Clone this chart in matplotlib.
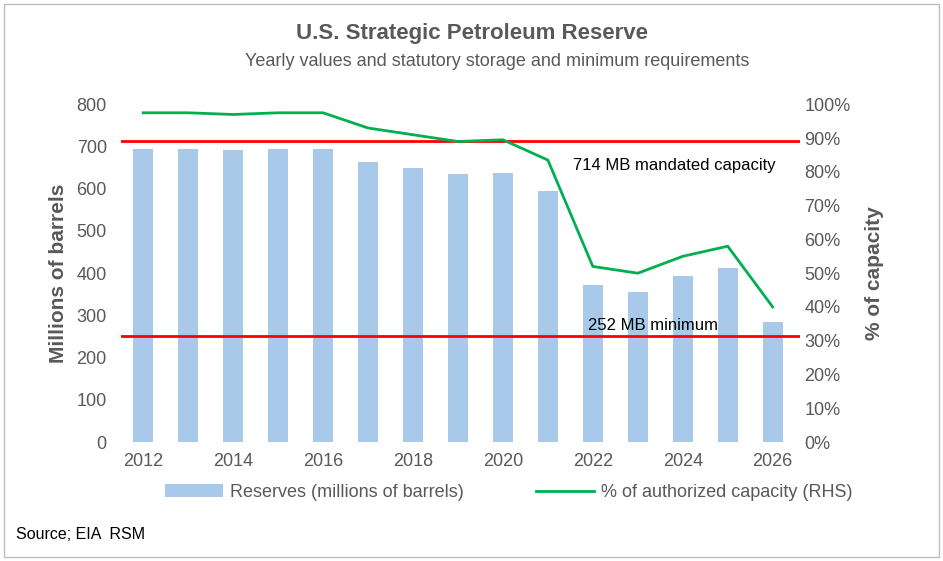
import matplotlib.pyplot as plt
from matplotlib.ticker import FuncFormatter

plt.rcParams['font.family'] = ['Liberation Sans', 'DejaVu Sans']

years = list(range(2012, 2027))
reserves = [695, 695, 691, 695, 695, 663, 650, 635, 638, 594, 372, 355, 394, 413, 285]
pct_capacity = [97.5, 97.5, 97.0, 97.5, 97.5, 93.0, 91.0, 89.0, 89.5, 83.5, 52.0, 50.0, 55.0, 58.0, 40.0]
mandated = 714
minimum = 252

gray = '#595959'
fig = plt.figure(figsize=(9.43, 5.61), dpi=100)
ax = fig.add_axes([0.128, 0.212, 0.72, 0.602])
ax2 = ax.twinx()

bars = ax.bar(years, reserves, width=0.45, color='#a9c9ea', label='Reserves (millions of barrels)', zorder=2)
ax.axhline(mandated, color='#ff0000', lw=2, zorder=3)
ax.axhline(minimum, color='#ff0000', lw=2, zorder=3)
line, = ax2.plot(years, pct_capacity, color='#00b050', lw=2, label='% of authorized capacity (RHS)')

ax.set_ylim(0, 800)
ax2.set_ylim(0, 100)
ax.set_xlim(2011.5, 2026.6)
ax.set_yticks(range(0, 801, 100))
ax2.set_yticks(range(0, 101, 10))
ax2.yaxis.set_major_formatter(FuncFormatter(lambda v, p: f'{v:.0f}%'))
ax.set_xticks(range(2012, 2027, 2))

for a in (ax, ax2):
    for s in a.spines.values():
        s.set_visible(False)
    a.tick_params(length=0, labelsize=13, colors=gray)
ax.tick_params(axis='x', pad=8)
ax.tick_params(axis='y', pad=10)
ax.set_ylabel('Millions of barrels', fontsize=15, fontweight='bold', color=gray, labelpad=6)
ax2.set_ylabel('% of capacity', fontsize=15, fontweight='bold', color=gray, labelpad=10)

ax.text(2021.55, 645, '714 MB mandated capacity', fontsize=12)
ax.text(2021.9, 265, '252 MB minimum', fontsize=12)

fig.text(0.5, 0.93, 'U.S. Strategic Petroleum Reserve', ha='center', fontsize=16, fontweight='bold', color=gray)
fig.text(0.527, 0.883, 'Yearly values and statutory storage and minimum requirements', ha='center', fontsize=13, color=gray)

fig.legend([bars, line], ['Reserves (millions of barrels)', '% of authorized capacity (RHS)'],
           loc='center', bbox_to_anchor=(0.54, 0.122), ncol=2, frameon=False,
           fontsize=13, labelcolor=gray, handlelength=3.2, handletextpad=0.4, columnspacing=4)
fig.text(0.017, 0.04, 'Source; EIA  RSM', fontsize=11.5)

fig.add_artist(plt.Rectangle((0.004, 0.007), 0.992, 0.986, transform=fig.transFigure,
                             fill=False, edgecolor='#bfbfbf', lw=1))
fig.savefig('out.png', dpi=100)
